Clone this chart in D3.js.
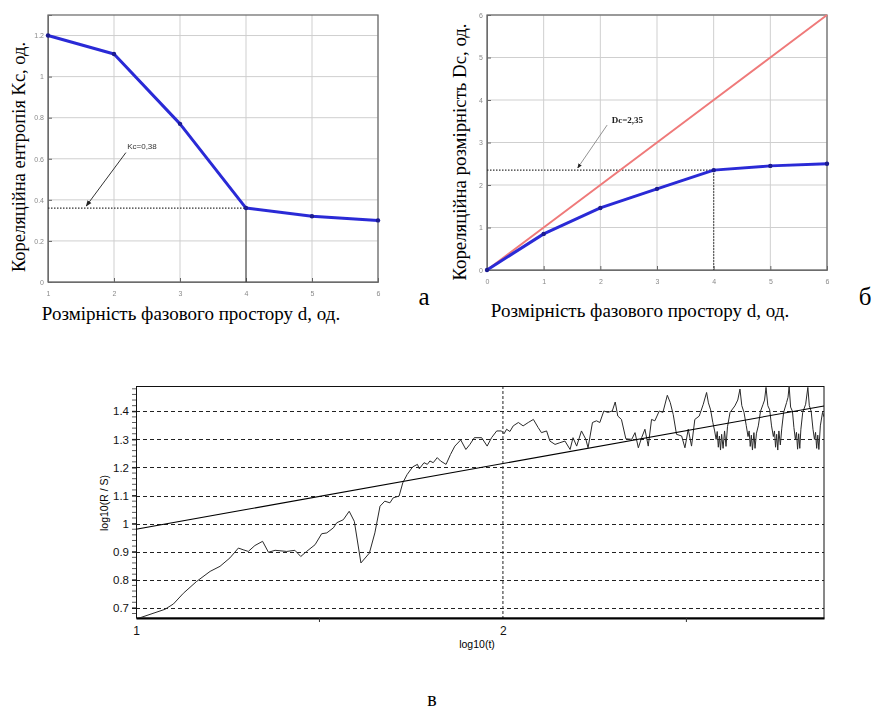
<!DOCTYPE html>
<html><head><meta charset="utf-8">
<script src="https://cdn.jsdelivr.net/npm/d3@7"></script>
<style>body{margin:0;background:#fff}</style>
</head><body>
<svg id="c" width="882" height="711" xmlns="http://www.w3.org/2000/svg"></svg>
<script>
// ---------- Panel а : correlation entropy ----------
const dimA = [1, 2, 3, 4, 5, 6];
const entropyKc = [1.20, 1.11, 0.77, 0.36, 0.32, 0.30];
const ticksAX = [1, 2, 3, 4, 5, 6];
const ticksAY = [0, 0.2, 0.4, 0.6, 0.8, 1, 1.2];
const kcLevel = 0.36;
const kcLabel = "Kc=0,38";

// ---------- Panel б : correlation dimension ----------
const dimB = [0, 1, 2, 3, 4, 5, 6];
const dimensionDc = [0, 0.85, 1.46, 1.91, 2.35, 2.45, 2.50];
const diagonalD = [0, 1, 2, 3, 4, 5, 6];
const ticksBX = [0, 1, 2, 3, 4, 5, 6];
const ticksBY = [0, 1, 2, 3, 4, 5, 6];
const dcLevel = 2.35;
const dcLabel = "Dc=2,35";

// ---------- Panel в : R/S analysis ----------
const logT = [1.000,1.079,1.102,1.129,1.165,1.202,1.229,1.256,1.279,1.292,1.306,1.324,1.345,1.361,1.379,1.411,1.433,1.449,1.465,1.488,
1.506,1.520,1.538,1.547,1.565,1.581,1.595,1.613,1.636,1.651,1.665,1.678,1.692,1.701,1.717,1.727,1.739,1.754,1.767,1.772,
1.785,1.794,1.801,1.810,1.821,1.830,1.845,1.857,1.869,1.885,1.899,1.910,1.922,1.942,1.957,1.969,1.983,1.996,2.003,2.010,
2.019,2.028,2.042,2.055,2.069,2.083,2.096,2.105,2.119,2.128,2.142,2.155,2.169,2.183,2.191,2.201,2.214,2.226,2.232,2.244,
2.255,2.264,2.275,2.286,2.298,2.306,2.313,2.323,2.335,2.351,2.360,2.369,2.378,2.387,2.396,2.405,2.414,2.426,2.436,2.448,
2.456,2.464,2.473,2.487,2.496,2.505,2.514,2.523,2.535,2.546,2.555,2.560,2.566,2.572,2.577,2.581,2.584,2.587,2.590,2.593,
2.596,2.600,2.604,2.608,2.612,2.619,2.632,2.640,2.646,2.651,2.657,2.663,2.668,2.671,2.674,2.677,2.680,2.684,2.687,2.691,
2.696,2.702,2.709,2.713,2.717,2.722,2.727,2.732,2.737,2.740,2.743,2.746,2.749,2.752,2.756,2.760,2.765,2.773,2.777,2.780,
2.784,2.789,2.793,2.797,2.800,2.803,2.806,2.809,2.812,2.817,2.825,2.831,2.835,2.840,2.845,2.849,2.852,2.855,2.858,2.861,
2.865,2.871,2.875];
const logRS = [0.660,0.695,0.714,0.752,0.794,0.830,0.848,0.878,0.913,0.907,0.901,0.922,0.937,0.898,0.905,0.901,0.905,0.883,0.901,0.925,
0.964,0.967,0.985,1.003,1.014,1.044,1.008,0.860,0.895,0.967,1.062,1.080,1.074,1.092,1.098,1.145,1.175,1.202,1.211,1.195,
1.217,1.211,1.223,1.217,1.235,1.223,1.211,1.246,1.276,1.298,1.264,1.282,1.306,1.306,1.276,1.306,1.330,1.330,1.320,1.336,
1.328,1.348,1.360,1.348,1.360,1.371,1.342,1.324,1.330,1.294,1.282,1.288,1.294,1.264,1.306,1.276,1.330,1.300,1.270,1.360,
1.366,1.360,1.401,1.396,1.401,1.433,1.383,1.371,1.302,1.300,1.324,1.270,1.306,1.336,1.276,1.371,1.366,1.401,1.396,1.457,
1.431,1.389,1.318,1.312,1.270,1.336,1.276,1.371,1.383,1.425,1.467,1.430,1.405,1.360,1.330,1.300,1.328,1.272,1.312,1.262,
1.318,1.268,1.330,1.275,1.345,1.396,1.419,1.440,1.479,1.420,1.396,1.350,1.310,1.330,1.275,1.315,1.262,1.324,1.268,1.322,
1.348,1.400,1.425,1.440,1.485,1.420,1.405,1.348,1.310,1.330,1.272,1.318,1.262,1.330,1.280,1.340,1.396,1.431,1.450,1.490,
1.415,1.400,1.342,1.300,1.325,1.265,1.320,1.268,1.336,1.396,1.425,1.485,1.420,1.400,1.336,1.300,1.325,1.268,1.315,1.264,
1.348,1.396,1.380];
const fitT = [1, 2.875];
const fitRS = [0.98, 1.419];
const ticksCX = [1, 2];
const ticksCY = [0.7, 0.8, 0.9, 1.0, 1.1, 1.2, 1.3, 1.4];

const svg = d3.select("#c");
const serif = "'Liberation Serif','Times New Roman',serif";
const sans = "'Liberation Sans',Arial,sans-serif";

const defs = svg.append("defs");
defs.append("marker").attr("id", "arr").attr("viewBox", "0 0 10 10").attr("refX", 9).attr("refY", 5)
  .attr("markerWidth", 6).attr("markerHeight", 6).attr("orient", "auto")
  .append("path").attr("d", "M0,1 L10,5 L0,9 Z").attr("fill", "#222");
defs.append("filter").attr("id", "soft").append("feGaussianBlur").attr("stdDeviation", 0.45);
defs.append("clipPath").attr("id", "clipC").append("rect").attr("x", 136).attr("y", 386).attr("width", 688).attr("height", 232);

function matlabPanel(g, x, y, tx, ty, fmtY) {
  g.append("g").selectAll("line").data(tx).join("line")
    .attr("x1", d => x(d)).attr("x2", d => x(d)).attr("y1", y.range()[0]).attr("y2", y.range()[1])
    .attr("stroke", "#cfcfcf").attr("stroke-width", 1);
  g.append("g").selectAll("line").data(ty).join("line")
    .attr("y1", d => y(d)).attr("y2", d => y(d)).attr("x1", x.range()[0]).attr("x2", x.range()[1])
    .attr("stroke", "#cfcfcf").attr("stroke-width", 1);
  const ax = g.append("g").attr("transform", `translate(0,${y.range()[0]})`)
    .call(d3.axisBottom(x).tickValues(tx).tickSize(-4).tickPadding(9).tickFormat(d3.format("d")));
  const ay = g.append("g").attr("transform", `translate(${x.range()[0]},0)`)
    .call(d3.axisLeft(y).tickValues(ty).tickSize(-4).tickPadding(4).tickFormat(fmtY));
  [ax, ay].forEach(a => {
    a.select(".domain").attr("stroke", "#777");
    a.selectAll(".tick line").attr("stroke", "#666");
    a.selectAll("text").attr("font-size", 7).attr("fill", "#8a8a8a").attr("font-family", sans);
  });
  g.append("rect").attr("x", x.range()[0]).attr("y", y.range()[1])
    .attr("width", x.range()[1] - x.range()[0]).attr("height", y.range()[0] - y.range()[1])
    .attr("fill", "none").attr("stroke", "#666").attr("stroke-width", 1.2);
}

// ================= Panel а =================
{
  const x = d3.scaleLinear([1, 6], [48, 378]);
  const y = d3.scaleLinear([0, 1.3], [282, 15]);
  const g = svg.append("g").attr("filter", "url(#soft)");
  matlabPanel(g, x, y, ticksAX, ticksAY, d => d3.format("~g")(d));
  g.append("line").attr("x1", x(1)).attr("x2", x(4)).attr("y1", y(kcLevel)).attr("y2", y(kcLevel))
    .attr("stroke", "#333").attr("stroke-width", 1.2).attr("stroke-dasharray", "1.5,1.5");
  g.append("line").attr("x1", x(4)).attr("x2", x(4)).attr("y1", y(kcLevel)).attr("y2", y(0))
    .attr("stroke", "#333").attr("stroke-width", 1);
  const line = d3.line().x((d, i) => x(dimA[i])).y(d => y(d));
  g.append("path").attr("d", line(entropyKc)).attr("fill", "none")
    .attr("stroke", "#2a2ad6").attr("stroke-width", 3).attr("stroke-linejoin", "round");
  g.append("g").selectAll("circle").data(entropyKc).join("circle")
    .attr("cx", (d, i) => x(dimA[i])).attr("cy", d => y(d)).attr("r", 2.2).attr("fill", "#1a1a90");
  g.append("line").attr("x1", x(2.18)).attr("y1", y(0.63)).attr("x2", x(1.58)).attr("y2", y(0.37))
    .attr("stroke", "#333").attr("stroke-width", 1).attr("marker-end", "url(#arr)");
  g.append("text").attr("x", x(2.2)).attr("y", y(0.65)).text(kcLabel)
    .attr("font-size", 8).attr("font-family", sans).attr("fill", "#333");
}
svg.append("text").attr("transform", "translate(25,157) rotate(-90)").attr("text-anchor", "middle")
  .attr("font-family", serif).attr("font-size", 18.5).text("Кореляційна ентропія Kc, од.");
svg.append("text").attr("x", 191).attr("y", 320).attr("text-anchor", "middle")
  .attr("font-family", serif).attr("font-size", 19).text("Розмірність фазового простору d, од.");
svg.append("text").attr("x", 424).attr("y", 305).attr("text-anchor", "middle")
  .attr("font-family", serif).attr("font-size", 25).text("а");

// ================= Panel б =================
{
  const x = d3.scaleLinear([0, 6], [487, 827]);
  const y = d3.scaleLinear([0, 6], [270, 15]);
  const g = svg.append("g").attr("filter", "url(#soft)");
  matlabPanel(g, x, y, ticksBX, ticksBY, d3.format("d"));
  g.append("line").attr("x1", x(0)).attr("x2", x(4)).attr("y1", y(dcLevel)).attr("y2", y(dcLevel))
    .attr("stroke", "#333").attr("stroke-width", 1.2).attr("stroke-dasharray", "1.5,1.5");
  g.append("line").attr("x1", x(4)).attr("x2", x(4)).attr("y1", y(dcLevel)).attr("y2", y(0))
    .attr("stroke", "#333").attr("stroke-width", 1.2).attr("stroke-dasharray", "1.5,1.5");
  const lineD = d3.line().x((d, i) => x(dimB[i])).y(d => y(d));
  g.append("path").attr("d", lineD(diagonalD)).attr("fill", "none")
    .attr("stroke", "#ef7a7a").attr("stroke-width", 2);
  g.append("path").attr("d", lineD(dimensionDc)).attr("fill", "none")
    .attr("stroke", "#2a2ad6").attr("stroke-width", 3).attr("stroke-linejoin", "round");
  g.append("g").selectAll("circle").data(dimensionDc).join("circle")
    .attr("cx", (d, i) => x(dimB[i])).attr("cy", d => y(d)).attr("r", 2.2).attr("fill", "#1a1a90");
  g.append("line").attr("x1", x(2.12)).attr("y1", y(3.41)).attr("x2", x(1.6)).attr("y2", y(2.4))
    .attr("stroke", "#777").attr("stroke-width", 0.8).attr("marker-end", "url(#arr)");
  g.append("text").attr("x", x(2.2)).attr("y", y(3.45)).text(dcLabel)
    .attr("font-size", 9).attr("font-weight", "bold").attr("font-family", serif).attr("fill", "#222");
}
svg.append("text").attr("transform", "translate(466,152) rotate(-90)").attr("text-anchor", "middle")
  .attr("font-family", serif).attr("font-size", 18.8).text("Кореляційна розмірність Dc, од.");
svg.append("text").attr("x", 640).attr("y", 317).attr("text-anchor", "middle")
  .attr("font-family", serif).attr("font-size", 19).text("Розмірність фазового простору d, од.");
svg.append("text").attr("x", 865).attr("y", 305).attr("text-anchor", "middle")
  .attr("font-family", serif).attr("font-size", 25).text("б");

// ================= Panel в =================
{
  const x = d3.scaleLinear([1, 2.875], [136, 824]);
  const y = d3.scaleLinear([0.664, 1.49], [618, 386]);
  const g = svg.append("g");
  g.append("g").selectAll("line").data(ticksCY).join("line")
    .attr("x1", 136).attr("x2", 824).attr("y1", d => Math.round(y(d)) + 0.5).attr("y2", d => Math.round(y(d)) + 0.5)
    .attr("stroke", "#222").attr("stroke-dasharray", "4,3");
  g.append("line").attr("x1", x(2)).attr("x2", x(2)).attr("y1", 386).attr("y2", 618)
    .attr("stroke", "#222").attr("stroke-dasharray", "3,2");
  const minor = d3.range(0.68, 1.49, 0.02);
  g.append("g").selectAll("line").data(minor).join("line")
    .attr("x1", 132).attr("x2", 136).attr("y1", d => y(d)).attr("y2", d => y(d))
    .attr("stroke", "#333").attr("stroke-width", 0.8);
  g.append("rect").attr("x", 136.5).attr("y", 386.5).attr("width", 687.5).attr("height", 231.5)
    .attr("fill", "none").attr("stroke", "#111");
  const ax = g.append("g").attr("transform", "translate(0,618)")
    .call(d3.axisBottom(x).tickValues(ticksCX).tickSize(0).tickPadding(8).tickFormat(d3.format("d")));
  ax.select(".domain").attr("stroke", "#000").attr("stroke-width", 2);
  ax.selectAll("text").attr("font-size", 12).attr("font-family", sans).attr("fill", "#111");
  g.append("g").selectAll("line").data([1.5, 2.5]).join("line")
    .attr("x1", d => x(d)).attr("x2", d => x(d)).attr("y1", 618).attr("y2", 622).attr("stroke", "#333");
  const ay = g.append("g").attr("transform", "translate(136,0)")
    .call(d3.axisLeft(y).tickValues(ticksCY).tickSize(4).tickPadding(3).tickFormat(d => String(+d.toFixed(1))));
  ay.select(".domain").remove();
  ay.selectAll("text").attr("font-size", 11.5).attr("font-family", sans).attr("fill", "#111");
  const pts = logT.map((t, i) => [t, logRS[i]]);
  g.append("path").attr("clip-path", "url(#clipC)")
    .attr("d", d3.line().x(d => x(d[0])).y(d => y(d[1]))(pts))
    .attr("fill", "none").attr("stroke", "#2a2a2a").attr("stroke-width", 1);
  g.append("path").attr("d", d3.line().x((d, i) => x(fitT[i])).y(d => y(d))(fitRS))
    .attr("fill", "none").attr("stroke", "#000").attr("stroke-width", 1.1);
  g.append("text").attr("x", 477).attr("y", 648).attr("text-anchor", "middle")
    .attr("font-family", sans).attr("font-size", 10.5).text("log10(t)");
  g.append("text").attr("transform", "translate(108,503) rotate(-90)").attr("text-anchor", "middle")
    .attr("font-family", sans).attr("font-size", 10.5).text("log10(R / S)");
}
svg.append("text").attr("x", 432).attr("y", 706).attr("text-anchor", "middle")
  .attr("font-family", serif).attr("font-size", 20).text("в");
</script>
</body></html>
